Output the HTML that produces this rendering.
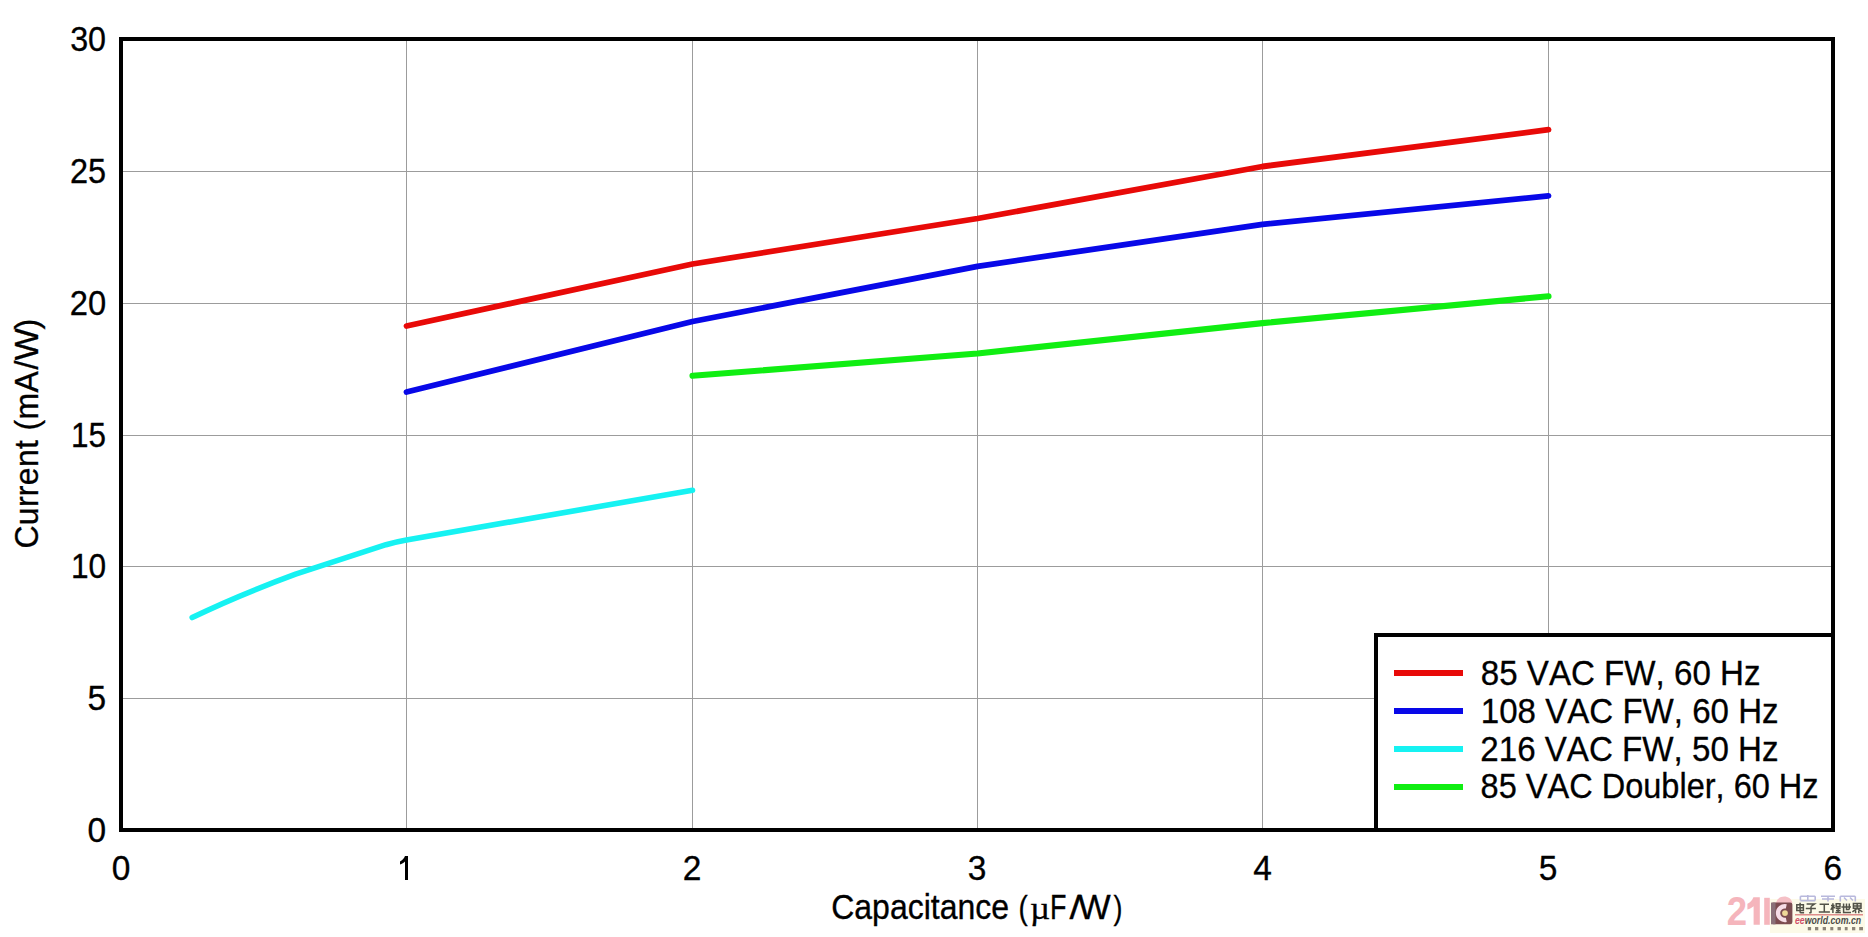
<!DOCTYPE html>
<html><head><meta charset="utf-8"><title>Current vs Capacitance</title>
<style>
html,body{margin:0;padding:0;background:#fff;}
body{width:1868px;height:937px;overflow:hidden;position:relative;font-family:"Liberation Sans",sans-serif;}
svg{position:absolute;left:0;top:0;}
text{font-family:"Liberation Sans",sans-serif;fill:#000;font-kerning:none;}
.k{stroke:#000;stroke-width:0.3px;}
</style></head><body>
<svg width="1868" height="937" viewBox="0 0 1868 937">
<rect x="0" y="0" width="1868" height="937" fill="#fff"/>
<!-- gridlines -->
<g stroke="#9c9c9c" stroke-width="1" shape-rendering="crispEdges">
<line x1="406.5" y1="39" x2="406.5" y2="830"/>
<line x1="692.5" y1="39" x2="692.5" y2="830"/>
<line x1="977.5" y1="39" x2="977.5" y2="830"/>
<line x1="1262.5" y1="39" x2="1262.5" y2="830"/>
<line x1="1548.5" y1="39" x2="1548.5" y2="830"/>
<line x1="121" y1="171.5" x2="1833" y2="171.5"/>
<line x1="121" y1="303.5" x2="1833" y2="303.5"/>
<line x1="121" y1="435.5" x2="1833" y2="435.5"/>
<line x1="121" y1="566.5" x2="1833" y2="566.5"/>
<line x1="121" y1="698.5" x2="1833" y2="698.5"/>
</g>
<!-- curves -->
<g fill="none" stroke-width="5.6" stroke-linecap="round" stroke-linejoin="round">
<path stroke="#e80a08" stroke-width="5.8" d="M406.5,326 L692.5,264 L977.5,218.5 L1262.5,166.5 L1548.5,129.7"/>
<path stroke="#0808e8" stroke-width="5.8" d="M406.5,392 L692.5,321.5 L977.5,266.3 L1262.5,224.3 L1548.5,195.9"/>
<path stroke="#16f2f2" d="M192.2,617.6 C207,610.4 250,591 295.6,574.2 L386,544.7 Q396,541.7 406.5,539.9 L692.5,490.3"/>
<path stroke="#10ee12" stroke-width="6.1" d="M692.5,375.8 L977.5,353.5 L1262.5,323.1 L1548.5,296.2"/>
</g>
<!-- legend -->
<rect x="1376" y="635" width="457" height="195" fill="#fff" stroke="#000" stroke-width="4"/>
<g stroke-width="6" shape-rendering="crispEdges">
<line x1="1394" y1="673" x2="1463" y2="673" stroke="#e80a08"/>
<line x1="1394" y1="711" x2="1463" y2="711" stroke="#0808e8"/>
<line x1="1394" y1="749" x2="1463" y2="749" stroke="#16f2f2"/>
<line x1="1394" y1="787" x2="1463" y2="787" stroke="#10ee12"/>
</g>
<g class="k" font-size="33.5">
<text transform="translate(1480.8,684.5) scale(1,1.02)" textLength="279.7" lengthAdjust="spacingAndGlyphs">85 VAC FW, 60 Hz</text>
<text transform="translate(1480.8,722.5) scale(1,1.02)" textLength="297.8" lengthAdjust="spacingAndGlyphs">108 VAC FW, 60 Hz</text>
<text transform="translate(1480.3,760.6) scale(1,1.02)" textLength="298.2" lengthAdjust="spacingAndGlyphs">216 VAC FW, 50 Hz</text>
<text transform="translate(1480.6,798.4) scale(1,1.02)" textLength="338.0" lengthAdjust="spacingAndGlyphs">85 VAC Doubler, 60 Hz</text>
</g>
<!-- frame -->
<rect x="121" y="39" width="1712" height="791" fill="none" stroke="#000" stroke-width="4"/>
<!-- y tick labels -->
<g class="k" font-size="33.5" text-anchor="end">
<text transform="translate(106.1,50.9) scale(0.965,1.04)">30</text>
<text transform="translate(106.1,182.5) scale(0.97,1.04)">25</text>
<text transform="translate(106.1,314.6) scale(0.977,1.04)">20</text>
<text transform="translate(106.1,446.6) scale(0.94,1.04)">15</text>
<text transform="translate(106.1,577.6) scale(0.945,1.04)">10</text>
<text transform="translate(106.2,710.1) scale(1,1.04)">5</text>
<text transform="translate(106.1,842.2) scale(1,1.04)">0</text>
</g>
<!-- x tick labels -->
<g class="k" font-size="33.5" text-anchor="middle">
<text transform="translate(120.95,879.8) scale(1,1.04)">0</text>
<text transform="translate(692,879.8) scale(1,1.04)">2</text>
<text transform="translate(977.1,879.8) scale(1,1.04)">3</text>
<text transform="translate(1262.6,879.8) scale(1,1.04)">4</text>
<text transform="translate(1548,879.8) scale(1,1.04)">5</text>
<text transform="translate(1832.8,879.8) scale(1,1.04)">6</text>
</g>
<path d="M405,856 H408 V880 H405 V861.4 C403.7,862.6 401.9,863.8 400,864.6 V861.4 C402.1,860.4 404.1,858.4 405,856 Z" fill="#000"/>
<!-- axis titles -->
<g class="k" font-size="32">
<text transform="translate(831.2,918.6) scale(1,1.07)">Capacitance</text>
<text transform="translate(1018.6,918.6) scale(0.87,1.03)">(</text>
<text transform="translate(1030.1,918.6) scale(1.12,1.035)" font-size="31" style="font-family:'Liberation Serif',serif">&#181;</text>
<text transform="translate(1049.9,918.6) scale(0.84,1.077)">F</text>
<text transform="translate(1069.4,918.6) scale(1.27,1.02)">/</text>
<text transform="translate(1077.95,918.6) scale(1.082,1.077)">W</text>
<text transform="translate(1113.55,918.6) scale(0.84,1.03)">)</text>
</g>
<g class="k" font-size="32" transform="translate(37.6,548.6) rotate(-90)">
<text transform="scale(1,1.04)" textLength="177.35" lengthAdjust="spacing">Current (mA</text>
<text transform="translate(179.2,0) scale(1,1.04)">/</text>
<text transform="translate(188.05,0) scale(1.075,1.04)">W</text>
<text transform="translate(219.1,0) scale(1,1.04)">)</text>
</g>
<!-- watermark -->
<g>
<rect x="1770" y="899" width="95" height="34" fill="#fcfae8"/>
<text transform="translate(1726.8,924.7) scale(0.892,1)" font-size="41" font-weight="bold" fill="#f5b5bc" style="fill:#f5b5bc">2</text>
<path d="M1753.4,897.3 H1759.8 V924.7 H1753.6 V906.2 C1751.8,907.8 1749.6,908.8 1747.4,909.4 V903.8 C1750,902.8 1752.2,900.6 1753.4,897.3 Z" fill="#f5b5bc"/>
<path d="M1764.2,897.8 h5.6 v27 h-5.6 z" fill="#f5b5bc"/>
<path d="M1776,903 C1777,898 1781,896.4 1784.3,896.4 C1788,896.4 1791.5,898.5 1792.4,903 Z" fill="#f5c0c6"/>
<rect x="1771" y="902.6" width="21.4" height="21.7" rx="2.2" fill="#7c4c50"/>
<rect x="1771" y="902.6" width="4.5" height="21.7" fill="#8a7078"/>
<path d="M1786.3,906.4 A6.85,6.85 0 1 0 1786.3,919.8" fill="none" stroke="#f6dde6" stroke-width="4.3"/>
<circle cx="1785" cy="913.1" r="2.9" fill="#efd898"/>
<g fill="none" stroke="#b8b8dc" stroke-width="1.6">
<path d="M1800.4,896.3 h14.8 M1800.4,900.6 h14.8 M1800.4,896.3 v4.3 M1815.2,896.3 v4.3 M1807.8,895 v6.5"/>
<path d="M1821,896.3 h14 M1828,896.3 v5.2 M1822,899 h12"/>
<path d="M1840.3,896.3 h15 M1840.3,896.3 v5.2 M1855.3,896.3 v5.2 M1844,897.5 l3,3 M1850,897.5 l3,3"/>
</g>
<g fill="none" stroke="#525248" stroke-width="1.5">
<path d="M1796.8,904.8 h6.6 v5.8 h-6.6 z M1796.8,907.7 h6.6 M1800.1,902.8 v9.2 q0,0.8 1,0.8 h3"/>
<path d="M1806.6,903.9 h8 l-3.6,2.6 M1811,906.4 v6 q0,0.6 -1.8,0.4 M1805.8,908.4 h10.1"/>
<path d="M1819.6,904.2 h9.4 M1824.3,904.2 v7.6 M1818.8,911.9 h11.1"/>
<path d="M1831,905.4 h3.6 M1832.9,903.2 v9.8 M1832.8,906.5 l-2,3.4 M1833.2,906.5 l1.6,1.6 M1836.2,903.8 h3.8 v2.8 h-3.8 z M1835.6,908.2 h5 M1838.1,908.2 v4.4 M1836,910.4 h4.4 M1835.4,912.6 h5.5"/>
<path d="M1841.4,907 h9.6 M1843.6,903.6 v8.8 h7.4 M1846.5,903.6 v6 h2.8 M1849.3,903.6 v6"/>
<path d="M1853.4,903.6 h7.6 v4.6 h-7.6 z M1857.2,903.6 v4.6 M1853.4,905.9 h7.6 M1857.2,908.4 l-4.8,3.4 M1857.2,908.4 l5.2,3.4 M1855.6,910.4 v2.8 M1858.8,910.4 v2.8"/>
</g>
<rect x="1795" y="914.2" width="68" height="1.2" fill="#d87474"/>
<text x="1795" y="923.6" font-size="10.8" font-weight="bold" font-style="italic" textLength="66.1" lengthAdjust="spacingAndGlyphs" fill="#4c4c48" style="fill:#4c4c48"><tspan fill="#d0506a" style="fill:#d0506a">ee</tspan>world.com.cn</text>
<g fill="#8c8478">
<rect x="1807.8" y="927" width="3.3" height="3.3"/><rect x="1815" y="927" width="3.3" height="3.3"/><rect x="1822.7" y="927" width="3.3" height="3.3"/><rect x="1830.3" y="927" width="3" height="3.3"/><rect x="1837.5" y="927" width="3.4" height="3.3"/><rect x="1844.8" y="927" width="2.8" height="3.3"/><rect x="1852" y="927" width="3.3" height="3.3"/><rect x="1859.2" y="927" width="3.8" height="3.3"/>
</g>
</g>
</svg>
</body></html>
